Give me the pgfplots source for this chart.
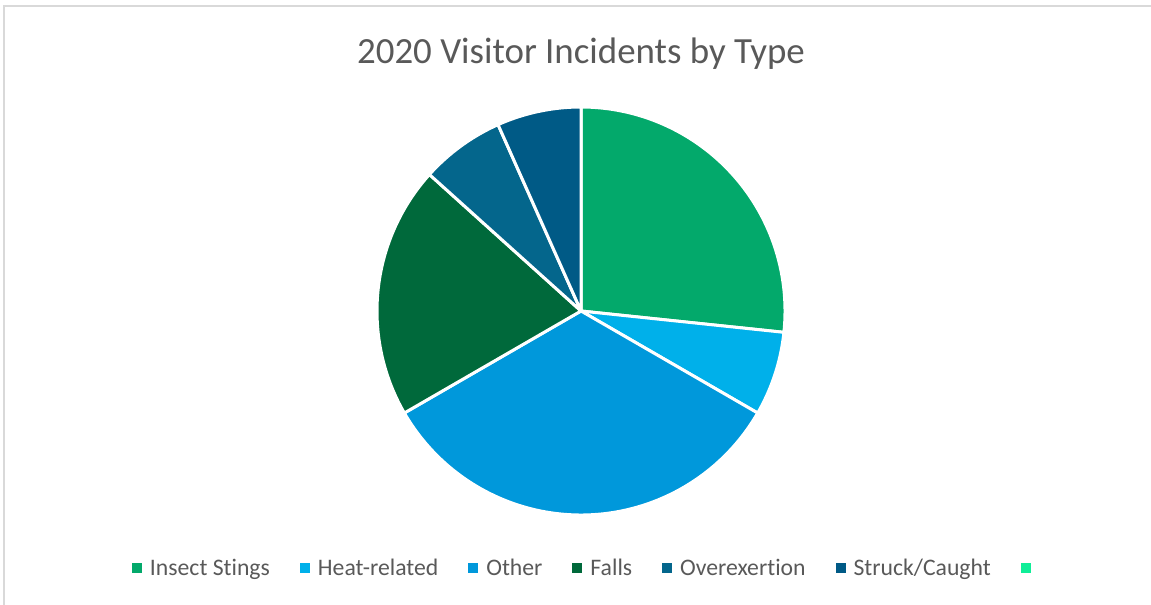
\documentclass[border=0pt]{standalone}
\usepackage{pgfplots}
\pgfplotsset{compat=1.18}
\usepackage{pgfplotstable}
\usepackage{fontspec}
\setmainfont[Ligatures=NoCommon]{Carlito}

\definecolor{cInsect}{HTML}{03A96B}
\definecolor{cHeat}{HTML}{00B0EA}
\definecolor{cOther}{HTML}{0098DB}
\definecolor{cFalls}{HTML}{00693B}
\definecolor{cOver}{HTML}{04668C}
\definecolor{cStruck}{HTML}{005A86}
\definecolor{cBlank}{HTML}{10EE98}
\definecolor{txt}{HTML}{595959}
\definecolor{frame}{HTML}{D9D9D9}
\colorlet{slice0}{cInsect}
\colorlet{slice1}{cHeat}
\colorlet{slice2}{cOther}
\colorlet{slice3}{cFalls}
\colorlet{slice4}{cOver}
\colorlet{slice5}{cStruck}

% 2020 visitor incidents by type (counts)
\pgfplotstableread{
idx value
0 4
1 1
2 5
3 3
4 1
5 1
}\incidents

% total and cumulative angles (start at 12 o'clock, clockwise)
\xdef\total{0}
\foreach \i in {0,...,5}{%
  \pgfplotstablegetelem{\i}{value}\of\incidents
  \pgfmathsetmacro\newtot{\total+\pgfplotsretval}%
  \xdef\total{\newtot}%
}
\xdef\cumsum{0}
\foreach \i in {0,...,5}{%
  \pgfplotstablegetelem{\i}{value}\of\incidents
  \pgfmathsetmacro\aS{90-360*\cumsum/\total}%
  \pgfmathsetmacro\newcum{\cumsum+\pgfplotsretval}%
  \xdef\cumsum{\newcum}%
  \pgfmathsetmacro\aE{90-360*\cumsum/\total}%
  \expandafter\xdef\csname angS\i\endcsname{\aS}%
  \expandafter\xdef\csname angE\i\endcsname{\aE}%
}

\begin{document}
\begin{tikzpicture}
\begin{axis}[
  scale only axis,
  width=1151pt, height=605pt,
  xmin=-2.848, xmax=2.794,
  ymin=-1.441, ymax=1.5245,
  hide axis,
  clip=false,
  legend columns=7,
  legend image code/.code={\fill[#1, draw=none] (0pt,-5pt) rectangle (10pt,5pt);},
  legend style={
    draw=none, fill=none, inner sep=0pt, outer sep=0pt,
    at={(axis cs:-2.201,-1.2574)}, anchor=west,
    cells={anchor=west},
    nodes={inner sep=0pt, outer sep=0pt, text=txt,
           font=\fontsize{23.7}{28}\selectfont,
           text height=20pt, text depth=4.7pt},
    /tikz/every odd column/.append style={column sep=8pt},
    /tikz/every even column/.append style={column sep=30pt},
  },
]
\pgfplotsinvokeforeach{0,...,5}{%
  \addplot[forget plot, fill=slice#1, draw=white, line width=3pt,
    line join=round, samples=90,
    domain=\csname angE#1\endcsname:\csname angS#1\endcsname]
    ({cos(x)},{sin(x)}) -- (axis cs:0,0) -- cycle;
}
\addlegendimage{fill=cInsect}\addlegendentry{Insect Stings}
\addlegendimage{fill=cHeat}\addlegendentry{Heat-related}
\addlegendimage{fill=cOther}\addlegendentry{Other}
\addlegendimage{fill=cFalls}\addlegendentry{Falls}
\addlegendimage{fill=cOver}\addlegendentry{Overexertion}
\addlegendimage{fill=cStruck}\addlegendentry{Struck/Caught}
\addlegendimage{fill=cBlank}\addlegendentry{}

\node[anchor=base, text=txt, font=\fontsize{36.9}{44}\selectfont, inner sep=0pt]
  at (axis cs:0,1.211) {2020 Visitor Incidents by Type};
\draw[frame, line width=1.3pt] (axis cs:-2.828,-1.441) -- (axis cs:-2.828,1.495) -- (axis cs:2.794,1.495);
\coordinate (bl) at (rel axis cs:0,0);
\coordinate (tr) at (rel axis cs:1,1);
\end{axis}
\pgfresetboundingbox
\path (bl) rectangle (tr);
\end{tikzpicture}
\end{document}
